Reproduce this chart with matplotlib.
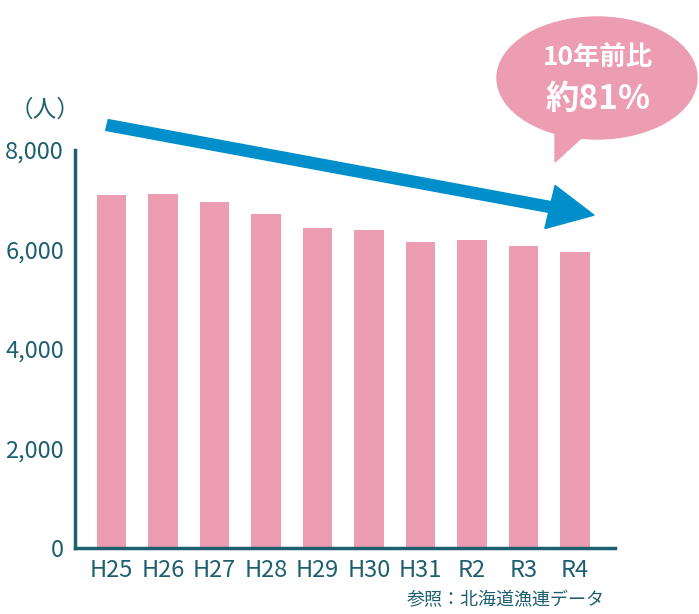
import matplotlib.pyplot as plt
from matplotlib.patches import Ellipse, Polygon, FancyArrow

plt.rcParams['font.family'] = ['Noto Sans CJK JP', 'DejaVu Sans']

years = ['H25', 'H26', 'H27', 'H28', 'H29', 'H30', 'H31', 'R2', 'R3', 'R4']
people = [7095, 7115, 6955, 6715, 6430, 6390, 6150, 6190, 6070, 5950]
yticks = [0, 2000, 4000, 6000, 8000]

W, H = 699, 614
teal = '#1d5f6e'
pink = '#ec9db2'
fig = plt.figure(figsize=(W / 100, H / 100), dpi=100)
ax = fig.add_axes([75 / W, 1 - 548 / H, 540 / W, 398 / H])

ax.bar(range(len(years)), people, width=0.57, color=pink)
ax.set_xlim(-0.71, 9.78)
ax.set_ylim(0, 8000)
ax.set_yticks(yticks)
ax.set_yticklabels([f'{v:,}' for v in yticks], fontsize=17, color=teal)
ax.set_xticks(range(len(years)))
ax.set_xticklabels(years, fontsize=17, color=teal)
ax.tick_params(axis='both', length=0, pad=8)
for s in ['top', 'right']:
    ax.spines[s].set_visible(False)
for s in ['left', 'bottom']:
    ax.spines[s].set_color(teal)
    ax.spines[s].set_linewidth(2.5)

fig.text(10 / W, 1 - 110 / H, '（人）', fontsize=17, color=teal, va='center')
fig.text(605 / W, 1 - 600 / H, '参照：北海道漁連データ', fontsize=13, color=teal,
         ha='right', va='center')

# trend arrow
x0, y0, x1, y1 = 107, 125, 595, 215
arr = FancyArrow(x0 / W, 1 - y0 / H, (x1 - x0 - 45) / W, -(y1 - y0 - 8) / H,
                 width=11 / H, head_width=44 / H, head_length=45 / W,
                 length_includes_head=False, color='#008fca',
                 transform=fig.transFigure)
fig.patches.append(arr)

# speech bubble
ell = Ellipse((597 / W, 1 - 78 / H), 200 / W, 122 / H, color=pink,
              transform=fig.transFigure)
tail = Polygon([(555 / W, 1 - 120 / H), (590 / W, 1 - 130 / H), (555 / W, 1 - 162 / H)],
               color=pink, transform=fig.transFigure)
fig.patches.extend([tail, ell])
fig.text(598 / W, 1 - 57 / H, '10年前比', fontsize=19, color='white', ha='center',
         va='center', weight='bold')
fig.text(598 / W, 1 - 99 / H, '約81%', fontsize=24, color='white', ha='center',
         va='center', weight='bold')

fig.savefig('out.png', dpi=100)
